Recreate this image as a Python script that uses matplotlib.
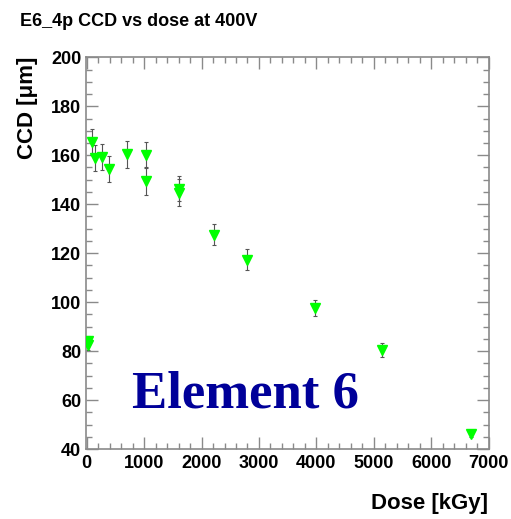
import matplotlib
matplotlib.use("Agg")
import matplotlib.pyplot as plt
from matplotlib.ticker import MultipleLocator

dose = [15, 25, 87, 144, 271, 388, 696, 1026, 1026, 1605, 1605, 2209, 2800, 3970, 5153, 6696]
ccd = [84.2, 82.4, 165.4, 158.9, 159.3, 154.4, 160.3, 160.0, 149.4, 146.4, 144.6, 127.6, 117.4, 97.7, 80.4, 46.1]
err = [2.0, 2.0, 5.2, 5.3, 5.2, 5.2, 5.4, 5.3, 5.6, 5.0, 5.5, 4.4, 4.4, 3.3, 2.7, 1.0]

title = "E6_4p CCD vs dose at 400V"
xlabel = "Dose [kGy]"
ylabel = "CCD [\u03bcm]"
note = "Element 6"

W, H = 511, 519
fig = plt.figure(figsize=(W / 100, H / 100), dpi=100)
fig.patch.set_facecolor("white")
ax = fig.add_axes([85.5 / W, 1 - 449 / H, (488.5 - 85.5) / W, (449 - 57.3) / H])

ax.errorbar(dose, ccd, yerr=err, fmt="none", ecolor="#555555", elinewidth=0.8,
            capsize=1.5, capthick=0.8, zorder=2)
ax.plot(dose, ccd, linestyle="none", marker="v", markersize=7.5,
        color="#00ff00", markeredgecolor="#00ff00", zorder=3)

ax.set_xlim(-22, 7000)
ax.set_ylim(40, 200)
ax.xaxis.set_major_locator(MultipleLocator(1000))
ax.xaxis.set_minor_locator(MultipleLocator(200))
ax.yaxis.set_major_locator(MultipleLocator(20))
ax.yaxis.set_minor_locator(MultipleLocator(5))

gray = "#8a8a8a"
for s in ax.spines.values():
    s.set_color(gray)
    s.set_linewidth(1.2)
ax.tick_params(which="both", direction="in", top=True, right=True, color=gray,
               width=1.0, labelsize=13)
ax.tick_params(which="major", length=8.5)
ax.tick_params(which="minor", length=4.5)
ax.tick_params(axis="y", pad=3)
ax.tick_params(axis="x", pad=4)
for lab in ax.get_xticklabels() + ax.get_yticklabels():
    lab.set_fontweight("bold")
    lab.set_family("Liberation Sans")

fig.text(20 / W, 1 - 21 / H, title, ha="left", va="center", fontsize=13,
         fontweight="bold", family="Liberation Sans")
fig.text(488 / W, 1 - 504 / H, xlabel, ha="right", va="center", fontsize=16,
         fontweight="bold", family="Liberation Sans")
fig.text(28 / W, 1 - 57 / H, ylabel, ha="center", va="top", rotation=90,
         fontsize=16, fontweight="bold", family="Liberation Sans")
fig.text(132 / W, 1 - 407 / H, note, ha="left", va="baseline", fontsize=38,
         fontweight="bold", family="Liberation Serif", color="#000099")

fig.savefig("out.png", dpi=100, facecolor="white")
